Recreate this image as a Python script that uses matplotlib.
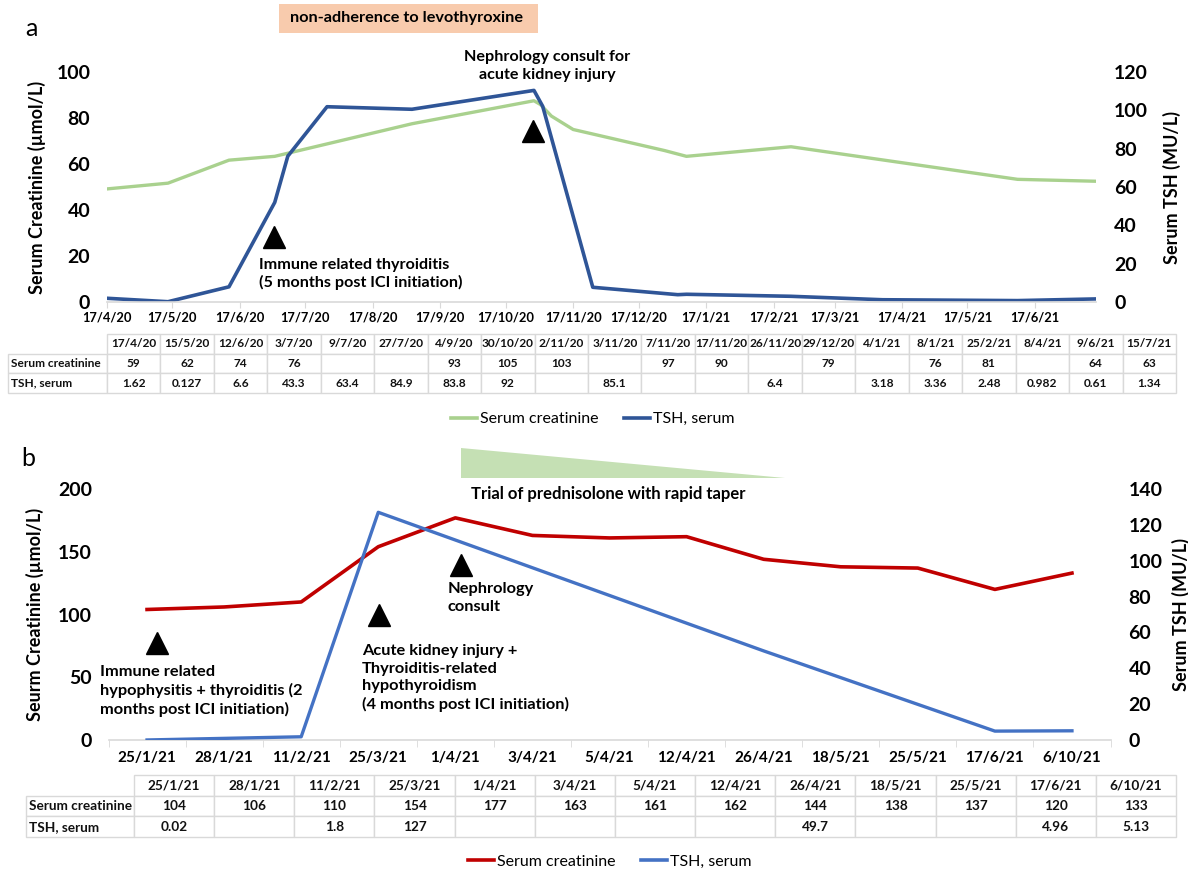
import numpy as np
import pandas as pd
import matplotlib.pyplot as plt
from matplotlib.lines import Line2D
from matplotlib.patches import Polygon, Rectangle

plt.rcParams['font.family'] = ['Lato', 'DejaVu Sans']

nan = np.nan

# ---------------- panel a data ----------------
dates_a = ['17/4/20', '15/5/20', '12/6/20', '3/7/20', '9/7/20', '27/7/20', '4/9/20',
           '30/10/20', '2/11/20', '3/11/20', '7/11/20', '17/11/20', '26/11/20',
           '29/12/20', '4/1/21', '8/1/21', '25/2/21', '8/4/21', '9/6/21', '15/7/21']
creat_a = [59, 62, 74, 76, nan, nan, 93, 105, 103, nan, 97, 90, nan, 79, nan, 76, 81, nan, 64, 63]
tsh_a = [1.62, 0.127, 6.6, 43.3, 63.4, 84.9, 83.8, 92, nan, 85.1, nan, nan, 6.4, nan,
         3.18, 3.36, 2.48, 0.982, 0.61, 1.34]
ticks_a = ['17/4/20', '17/5/20', '17/6/20', '17/7/20', '17/8/20', '17/9/20', '17/10/20',
           '17/11/20', '17/12/20', '17/1/21', '17/2/21', '17/3/21', '17/4/21', '17/5/21', '17/6/21']

# ---------------- panel b data ----------------
dates_b = ['25/1/21', '28/1/21', '11/2/21', '25/3/21', '1/4/21', '3/4/21', '5/4/21',
           '12/4/21', '26/4/21', '18/5/21', '25/5/21', '17/6/21', '6/10/21']
creat_b = [104, 106, 110, 154, 177, 163, 161, 162, 144, 138, 137, 120, 133]
tsh_b = [0.02, nan, 1.8, 127, nan, nan, nan, nan, 49.7, nan, nan, 4.96, 5.13]

GREEN, NAVY = '#a9d18e', '#2f5597'
RED, BLUE = '#c00000', '#4472c4'
GRID = '#d9d9d9'

W, H = 1188, 876
fig = plt.figure(figsize=(W / 100, H / 100), dpi=100)


def fx(x):
    return x / W


def fy(y):
    return 1 - y / H


def fmt(v):
    return '' if np.isnan(v) else f'{v:g}'


def set_yaxis(a, top, step):
    ticks = np.arange(0, top + 1, step)
    a.set_ylim(0, top)
    a.set_yticks(ticks)
    a.set_yticklabels([str(t) for t in ticks], fontsize=14, fontweight='bold')


def style_axis(ax, ax2):
    for a in (ax, ax2):
        for s in ('left', 'right', 'top', 'bottom'):
            a.spines[s].set_visible(False)
        a.tick_params(axis='y', length=0)
    ax.spines['bottom'].set_visible(True)
    ax.spines['bottom'].set_color(GRID)
    ax.spines['bottom'].set_linewidth(1.2)
    ax.tick_params(axis='y', pad=12)
    ax2.tick_params(axis='y', pad=13)


def add_table(left, top, right, bottom, first_w, header, rows, fs):
    axt = fig.add_axes([fx(left), fy(bottom), (right - left) / W, (bottom - top) / H])
    axt.axis('off')
    n = len(header)
    rest = (right - left - first_w) / n
    widths = [first_w] + [rest] * n
    cell_text = [[''] + header] + rows
    tbl = axt.table(cellText=cell_text, colWidths=widths, cellLoc='center', bbox=[0, 0, 1, 1])
    tbl.auto_set_font_size(False)
    tbl.set_fontsize(fs)
    for (r, c), cell in tbl.get_celld().items():
        cell.set_edgecolor(GRID)
        cell.set_linewidth(1.0)
        cell.get_text().set_fontweight('bold')
        cell.get_text().set_color('#111111')
        if c == 0:
            cell._loc = 'left'
            cell.PAD = 0.03
            cell.get_text().set_ha('left')
    tbl[0, 0].visible_edges = ''


# ======================= panel a =======================
xa = pd.to_datetime(dates_a, format='%d/%m/%y')
ta = pd.to_datetime(ticks_a, format='%d/%m/%y')
ca = np.array(creat_a, dtype=float)
sa = np.array(tsh_a, dtype=float)

ax1 = fig.add_axes([fx(107), fy(302), (1096 - 107) / W, (302 - 72) / H])
ax2 = ax1.twinx()
m = ~np.isnan(ca)
ax2.plot(xa[m], ca[m], color=GREEN, lw=2.4, solid_joinstyle='round')
m = ~np.isnan(sa)
ax1.plot(xa[m], sa[m], color=NAVY, lw=2.6, solid_joinstyle='round')
ax1.set_zorder(ax2.get_zorder() + 1)
ax1.patch.set_visible(False)

ax1.set_xlim(xa[0], xa[-1])
set_yaxis(ax1, 100, 20)
set_yaxis(ax2, 120, 20)
ax1.set_xticks(ta)
ax1.set_xticklabels(ticks_a, fontsize=9.3, fontweight='bold')
ax1.tick_params(axis='x', length=4, color=GRID, pad=3)
style_axis(ax1, ax2)
ax1.set_ylabel('Serum Creatinine (µmol/L)', fontsize=13, fontweight='bold')
ax1.yaxis.set_label_coords(-0.062, 0.5)
ax2.set_ylabel('Serum TSH (MU/L)', fontsize=13, fontweight='bold')
ax2.yaxis.set_label_coords(1.068, 0.5)

add_table(8, 334, 1176, 393, 99, dates_a, [
    ['Serum creatinine'] + [fmt(v) for v in creat_a],
    ['TSH, serum'] + [fmt(v) for v in tsh_a]], 8.6)

fig.legend(handles=[Line2D([], [], color=GREEN, lw=2.6), Line2D([], [], color=NAVY, lw=2.6)],
           labels=['Serum creatinine', 'TSH, serum'], loc='center',
           bbox_to_anchor=(fx(593), fy(419)), ncol=2, frameon=False, fontsize=11.5,
           handlelength=1.6, handletextpad=0.2, columnspacing=1.6)

fig.text(fx(31), fy(28), 'a', fontsize=18, ha='center', va='center')
fig.add_artist(Rectangle((fx(279), fy(33)), (538 - 279) / W, 29 / H, transform=fig.transFigure,
                         facecolor='#f8cbad', edgecolor='none'))
fig.text(fx(407), fy(18), 'non-adherence to levothyroxine', fontsize=11.7, fontweight='bold',
         ha='center', va='center')
fig.text(fx(547), fy(66), 'Nephrology consult for\nacute kidney injury', fontsize=11.6,
         fontweight='bold', ha='center', va='center', linespacing=1.3)
fig.text(fx(259), fy(274), 'Immune related thyroiditis\n(5 months post ICI initiation)',
         fontsize=11.6, fontweight='bold', ha='left', va='center', linespacing=1.3)
for px, py in [(533, 131), (274, 237)]:
    fig.add_artist(Line2D([fx(px)], [fy(py)], marker='^', ms=16, color='black',
                          transform=fig.transFigure))

# ======================= panel b =======================
cb = np.array(creat_b, dtype=float)
sb = np.array(tsh_b, dtype=float)
xb = np.arange(len(dates_b))

ax3 = fig.add_axes([fx(108.5), fy(740), 1002 / W, (740 - 489) / H])
ax4 = ax3.twinx()
ax3.plot(xb, cb, color=RED, lw=2.6, solid_joinstyle='round')
m = ~np.isnan(sb)
ax4.plot(xb[m], sb[m], color=BLUE, lw=2.4, solid_joinstyle='round')

ax3.set_xlim(-0.5, len(dates_b) - 0.5)
set_yaxis(ax3, 200, 50)
set_yaxis(ax4, 140, 20)
ax3.set_xticks(xb)
ax3.set_xticklabels(dates_b, fontsize=11, fontweight='bold')
ax3.set_xticks(np.arange(-0.5, len(dates_b)), minor=True)
ax3.tick_params(axis='x', which='major', length=0, pad=8)
ax3.tick_params(axis='x', which='minor', length=5, color=GRID)
style_axis(ax3, ax4)
ax3.set_ylabel('Seurm Creatinine (µmol/L)', fontsize=13, fontweight='bold')
ax3.yaxis.set_label_coords(-0.064, 0.5)
ax4.set_ylabel('Serum TSH (MU/L)', fontsize=13, fontweight='bold')
ax4.yaxis.set_label_coords(1.061, 0.5)

add_table(26, 775, 1176, 837, 108, dates_b, [
    ['Serum creatinine'] + [fmt(v) for v in creat_b],
    ['TSH, serum'] + [fmt(v) for v in tsh_b]], 9.8)

fig.legend(handles=[Line2D([], [], color=RED, lw=2.6), Line2D([], [], color=BLUE, lw=2.6)],
           labels=['Serum creatinine', 'TSH, serum'], loc='center',
           bbox_to_anchor=(fx(610), fy(862)), ncol=2, frameon=False, fontsize=11.5,
           handlelength=1.6, handletextpad=0.2, columnspacing=1.6)

fig.text(fx(28), fy(458), 'b', fontsize=18, ha='center', va='center')
fig.add_artist(Polygon([(fx(461), fy(448)), (fx(461), fy(478)), (fx(785), fy(478))],
                       closed=True, transform=fig.transFigure, facecolor='#c5e0b4',
                       edgecolor='none'))
fig.text(fx(471), fy(494), 'Trial of prednisolone with rapid taper', fontsize=12,
         fontweight='bold', ha='left', va='center')
fig.text(fx(448), fy(598), 'Nephrology\nconsult', fontsize=11.8, fontweight='bold',
         ha='left', va='center', linespacing=1.3)
fig.text(fx(362), fy(678), 'Acute kidney injury +\nThyroiditis-related\nhypothyroidism\n'
         '(4 months post ICI initiation)', fontsize=11.8, fontweight='bold',
         ha='left', va='center', linespacing=1.3)
fig.text(fx(100), fy(691), 'Immune related\nhypophysitis + thyroiditis (2\n'
         'months post ICI initiation)', fontsize=11.8, fontweight='bold',
         ha='left', va='center', linespacing=1.3)
for px, py in [(157, 643), (379, 615), (461, 565)]:
    fig.add_artist(Line2D([fx(px)], [fy(py)], marker='^', ms=16, color='black',
                          transform=fig.transFigure))

# make sure the axis numbers and titles stay bold
for a in (ax1, ax2, ax3, ax4):
    plt.setp(a.get_yticklabels(), fontweight='bold')
    a.yaxis.label.set_fontweight('bold')

fig.savefig('out.png', dpi=100)
